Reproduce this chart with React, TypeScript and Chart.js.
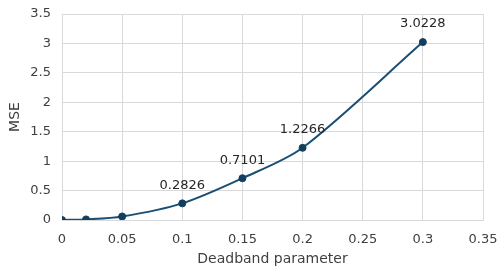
import React, { useEffect, useRef } from "react";
import { Chart, registerables } from "chart.js";

Chart.register(...registerables);

const xValues = [0, 0.02, 0.05, 0.1, 0.15, 0.2, 0.3];
const yValues = [0, 0.01, 0.06, 0.2826, 0.7101, 1.2266, 3.0228];
const pointLabels = ["", "", "", "0.2826", "0.7101", "1.2266", "3.0228"];
const xTicks = [0, 0.05, 0.1, 0.15, 0.2, 0.25, 0.3, 0.35];
const yTicks = [0, 0.5, 1, 1.5, 2, 2.5, 3, 3.5];

const FONT = "DejaVu Sans, Verdana, sans-serif";

const labelPlugin = {
  id: "pointLabels",
  afterDatasetsDraw(chart: any) {
    const ctx = chart.ctx;
    const meta = chart.getDatasetMeta(0);
    ctx.save();
    ctx.font = `13px ${FONT}`;
    ctx.fillStyle = "#262626";
    ctx.textAlign = "center";
    ctx.textBaseline = "middle";
    meta.data.forEach((pt: any, i: number) => {
      const t = pointLabels[i];
      if (!t) return;
      ctx.fillText(t, pt.x, pt.y - 18);
    });
    ctx.restore();
  },
};

export default function App() {
  const ref = useRef<HTMLCanvasElement | null>(null);
  useEffect(() => {
    if (!ref.current) return;
    const chart = new Chart(ref.current, {
      type: "line",
      data: {
        datasets: [
          {
            data: xValues.map((x, i) => ({ x, y: yValues[i] })),
            borderColor: "#1a4e72",
            backgroundColor: "#1a4e72",
            borderWidth: 2,
            pointRadius: 3.5,
            pointBorderWidth: 1,
            pointBackgroundColor: "#123f60",
            pointBorderColor: "#123f60",
            tension: 0.3,
            fill: false,
          },
        ],
      },
      options: {
        animation: false,
        responsive: false,
        maintainAspectRatio: false,
        layout: { padding: { top: 14, right: 17, left: 0, bottom: 0 } },
        plugins: {
          legend: { display: false },
          tooltip: { enabled: false },
        },
        scales: {
          x: {
            type: "linear",
            min: 0,
            max: 0.35,
            afterBuildTicks: (s: any) => {
              s.ticks = xTicks.map((v) => ({ value: v }));
            },
            afterFit: (s: any) => {
              s.height = 52;
            },
            ticks: {
              color: "#404040",
              font: { family: FONT, size: 13 },
              padding: 2,
              maxRotation: 0,
              callback: (v: any) => String(v),
            },
            grid: {
              color: "#d9d9d9",
              drawTicks: true,
              tickLength: 10,
              tickColor: "rgba(0,0,0,0)",
              lineWidth: 1,
            },
            border: { color: "#d9d9d9" },
            title: {
              display: true,
              text: "Deadband parameter",
              color: "#404040",
              font: { family: FONT, size: 14 },
              padding: { top: 4, bottom: 4 },
            },
          },
          y: {
            type: "linear",
            min: 0,
            max: 3.5,
            afterBuildTicks: (s: any) => {
              s.ticks = yTicks.map((v) => ({ value: v }));
            },
            afterFit: (s: any) => {
              s.width = 62;
            },
            ticks: {
              color: "#404040",
              font: { family: FONT, size: 13 },
              padding: 3,
              callback: (v: any) => String(v),
            },
            grid: {
              color: "#d9d9d9",
              drawTicks: true,
              tickLength: 8,
              tickColor: "rgba(0,0,0,0)",
              lineWidth: 1,
            },
            border: { color: "#d9d9d9" },
            title: {
              display: true,
              text: "MSE",
              color: "#404040",
              font: { family: FONT, size: 14 },
              padding: { top: 7, bottom: 4 },
            },
          },
        },
      },
      plugins: [labelPlugin],
    });
    return () => chart.destroy();
  }, []);
  return (
    <div style={{ position: "fixed", left: 0, top: 0, width: 500, height: 272, background: "#fff" }}>
      <canvas ref={ref} width={500} height={272} style={{ display: "block", width: 500, height: 272 }} />
    </div>
  );
}
